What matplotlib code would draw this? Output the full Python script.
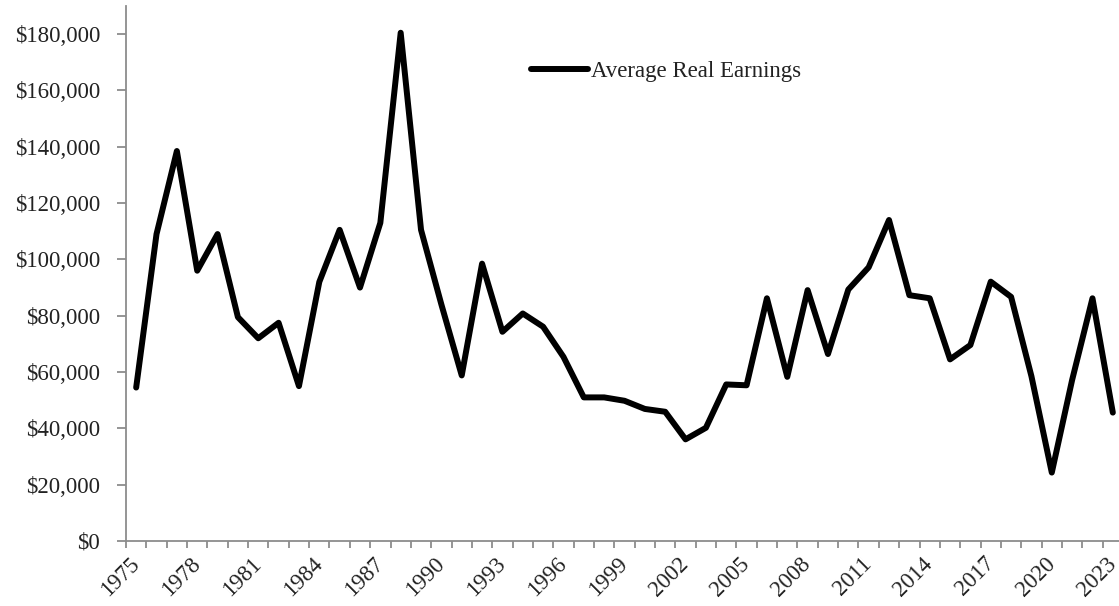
import matplotlib
matplotlib.use("Agg")
import matplotlib.pyplot as plt
from matplotlib.ticker import FuncFormatter, FixedLocator

years = list(range(1975, 2024))
earnings = [54500, 109000, 138500, 96000, 109000, 79500, 72000, 77500, 55000, 92000,
            110500, 90000, 113000, 180500, 110500, 84000, 58800, 98500, 74300, 80800,
            76100, 65400, 51000, 51000, 49800, 46900, 45900, 36100, 40200, 55600,
            55300, 86200, 58300, 89100, 66400, 89300, 97200, 114000, 87300, 86200,
            64500, 69600, 92100, 86700, 58500, 24300, 57200, 86200, 45600]
label_years = [y for y in years if (y - 1975) % 3 == 0]
yticks = list(range(0, 180001, 20000))

plt.rcParams['font.family'] = ['Liberation Serif', 'DejaVu Serif']

fig = plt.figure(figsize=(11.19, 6.06), dpi=100)
W, H = 1119, 606
left, right, top, bottom = 126, 1123, 6, 541
ax = fig.add_axes([left / W, (H - bottom) / H, (right - left) / W, (bottom - top) / H])

x = list(range(len(years)))
ax.plot(x, earnings, color='black', lw=4.3, solid_joinstyle='round',
        solid_capstyle='round', label='Average Real Earnings')

ax.set_xlim(-0.5, len(years) - 0.5)
ax.set_ylim(0, 190000)

gray = '#8c8c8c'
for s in ['top', 'right']:
    ax.spines[s].set_visible(False)
for s in ['left', 'bottom']:
    ax.spines[s].set_color(gray)
    ax.spines[s].set_linewidth(1.3)

ax.set_yticks(yticks)
ax.yaxis.set_major_formatter(FuncFormatter(lambda v, p: f"${int(v):,}"))
ax.tick_params(axis='y', length=6.5, width=1.3, color=gray, pad=12, labelsize=16.5,
               labelcolor='#222222')

# x: labels every 3rd year at category centers; tick marks at category boundaries
ax.xaxis.set_major_locator(FixedLocator([years.index(y) for y in label_years]))
ax.set_xticklabels([str(y) for y in label_years], rotation=45, ha='right',
                   va='center', rotation_mode='anchor')
ax.tick_params(axis='x', which='major', length=0, pad=14, labelsize=16.5,
               labelcolor='#222222')
ax.xaxis.set_minor_locator(FixedLocator([i - 0.5 for i in range(len(years) + 1)]))
ax.tick_params(axis='x', which='minor', length=5, width=1.3, color=gray)

leg = ax.legend(loc='center left', bbox_to_anchor=((531 - left) / (right - left), 0.878),
                frameon=False, fontsize=16.5, handlelength=2.5, handletextpad=0.1,
                borderpad=0, borderaxespad=0)
for t in leg.get_texts():
    t.set_color('#222222')

fig.savefig('out.png', dpi=100)
